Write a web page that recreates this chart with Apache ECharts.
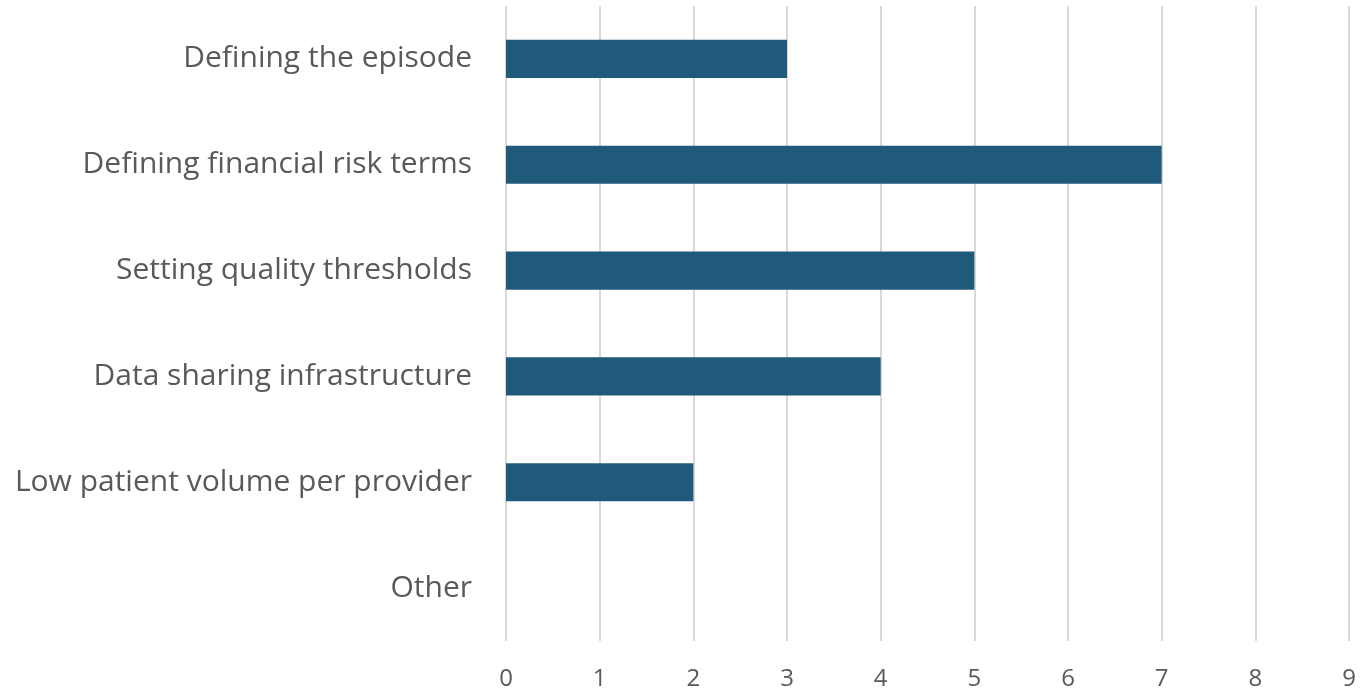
<!DOCTYPE html>
<html>
<head>
<meta charset="utf-8">
<title>Challenges</title>
<script src="https://cdn.jsdelivr.net/npm/echarts@6/dist/echarts.min.js"></script>
<style>
    html, body { margin: 0; padding: 0; background: #fff; }
    #chartBox { width: 1360px; height: 693px; }
</style>
</head>
<body>
<div id="chartBox"></div>
<script>
var categories = [
    "Defining the episode",
    "Defining financial risk terms",
    "Setting quality thresholds",
    "Data sharing infrastructure",
    "Low patient volume per provider",
    "Other"
];
var values = [3, 7, 5, 4, 2, 0];
var xTicks = [0, 1, 2, 3, 4, 5, 6, 7, 8, 9];

(function(){
    var _font = '"Open Sans", "Noto Sans", sans-serif';

    function getParams(){
        return {
            animation: false,
            grid: {
                left: 506,
                right: 11,
                top: 6,
                bottom: 52,
                containLabel: false
            },
            xAxis: {
                type: 'value',
                min: xTicks[0],
                max: xTicks[xTicks.length - 1],
                interval: 1,
                axisLine: { show: false },
                axisTick: { show: false },
                splitLine: {
                    show: true,
                    lineStyle: { color: '#d9d9d9', width: 2 }
                },
                axisLabel: {
                    color: '#595959',
                    fontSize: 24,
                    fontFamily: _font,
                    margin: 26
                }
            },
            yAxis: {
                type: 'category',
                inverse: true,
                data: categories,
                axisLine: { show: false },
                axisTick: { show: false },
                axisLabel: {
                    color: '#595959',
                    fontSize: 30,
                    fontFamily: _font,
                    margin: 34,
                    padding: [4, 0, 0, 0]
                }
            },
            series: [{
                type: 'bar',
                data: values,
                barCategoryGap: '64%',
                itemStyle: { color: '#1f5a7b' }
            }]
        };
    }

    var _chart = echarts.init(document.getElementById('chartBox'));
    _chart.setOption(getParams());
})();
</script>
</body>
</html>
